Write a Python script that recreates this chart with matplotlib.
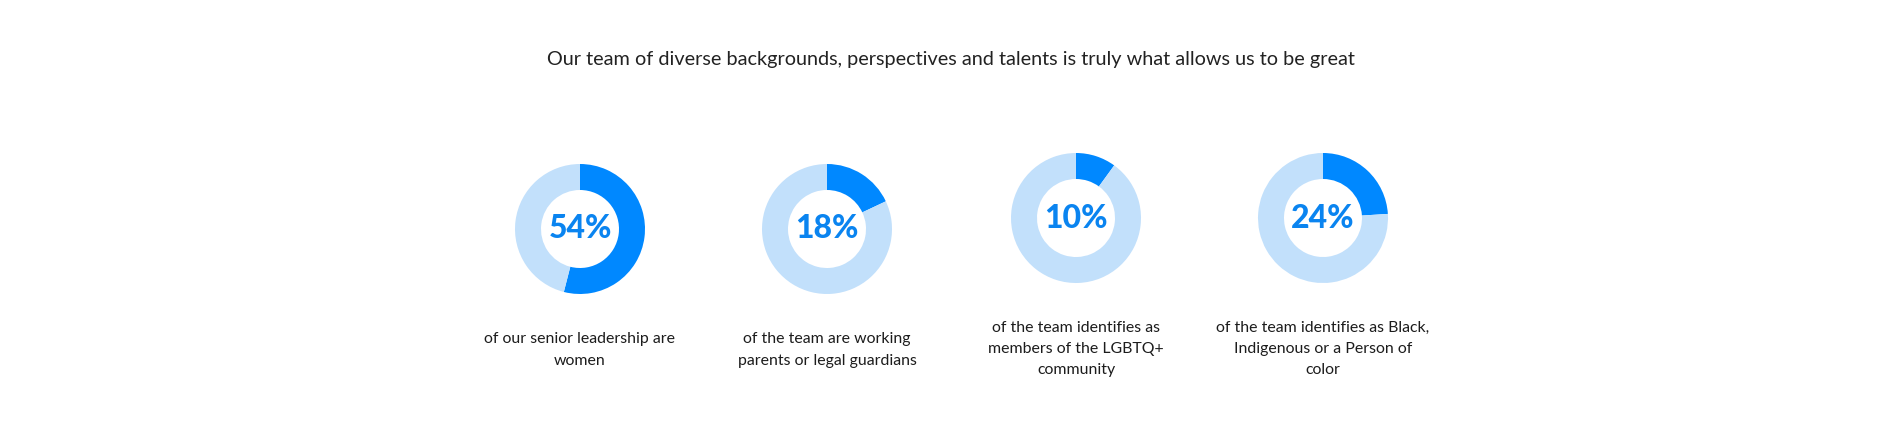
import matplotlib
matplotlib.use("Agg")
import matplotlib.pyplot as plt

# data
percents = [54, 18, 10, 24]
captions = [
    "of our senior leadership are\nwomen",
    "of the team are working\nparents or legal guardians",
    "of the team identifies as\nmembers of the LGBTQ+\ncommunity",
    "of the team identifies as Black,\nIndigenous or a Person of\ncolor",
]
title = "Our team of diverse backgrounds, perspectives and talents is truly what allows us to be great"

# layout (pixels, y measured from top)
W, H = 1902, 430
centers = [(580, 229), (827, 229), (1076, 218), (1323, 218)]
caption_y = [350, 350, 349, 349]
r_out = 65
ring = 26

dark = "#0088FF"
light = "#C2E0FB"

fig = plt.figure(figsize=(W / 100, H / 100), dpi=100)
ax = fig.add_axes([0, 0, 1, 1])

fig.text(0.5, 1 - 60 / H, title, ha="center", va="center",
         fontsize=14.3, color="#222222", family="Lato")

for p, (cx, cy), cap, ty in zip(percents, centers, captions, caption_y):
    ax.pie([p, 100 - p], colors=[dark, light], startangle=90, counterclock=False,
           center=(cx, H - cy), radius=r_out, frame=True,
           wedgeprops=dict(width=ring, linewidth=0))
    ax.text(cx, H - cy, f"{p}%", ha="center", va="center", fontsize=23,
            fontweight="black", color="#0A84F0", family="Lato")
    ax.text(cx, H - ty, cap, ha="center", va="center", fontsize=11.4,
            color="#1c1c1c", family="Lato", linespacing=1.65)

ax.set_xlim(0, W)
ax.set_ylim(0, H)
ax.set_aspect("equal")
ax.axis("off")

plt.savefig("out.png", dpi=100, facecolor="white")
